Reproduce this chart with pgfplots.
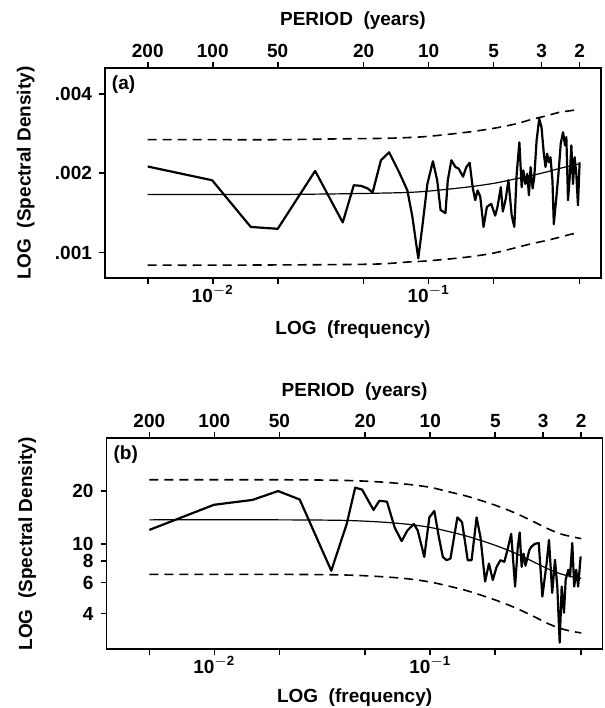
\documentclass[border=0pt]{standalone}
\usepackage{fontspec}
\setmainfont{Liberation Sans}
\usepackage{pgfplots}
\pgfplotsset{compat=1.18}

\pgfplotsset{
  specbase/.style={
    scale only axis, width=248pt,
    xmin=0.00317, xmax=0.628,
    tick align=outside, major tick length=3pt,
    axis line style={line width=0.9pt},
    xtick style={black, line width=0.8pt},
    ytick style={black, line width=0.8pt},
    tick label style={font=\fontsize{9.5}{11}\selectfont\bfseries},
    label style={font=\fontsize{9.5}{11}\selectfont\bfseries},
    /pgf/number format/assume math mode=true,
  },
  mainax/.style={specbase,
    xtick={0.005,0.01,0.02,0.05,0.1,0.2,0.5},
    xticklabels={,10\textsuperscript{$-$2},,,10\textsuperscript{$-$1},,},
    xticklabel style={inner sep=0.5pt},
    xtick pos=left, ytick pos=left,
    xlabel={LOG\ \ (frequency)},
    ylabel={LOG\ \ (Spectral Density)},
    ylabel style={at={(axis description cs:-0.16,0.5)}, anchor=center},
  },
  topax/.style={specbase,
    axis x line*=top, hide y axis,
    xtick pos=right, xticklabel pos=right,
    xtick={0.005,0.01,0.02,0.05,0.1,0.2,0.33333,0.5},
    xticklabels={200,100,50,20,10,5,3,2},
    xticklabel style={inner sep=2.1pt},
    xlabel={PERIOD\ \ (years)},
  },
  jag/.style={black, line width=1.1pt, line join=round},
  smfit/.style={black, line width=0.6pt, smooth},
  band/.style={black, line width=0.8pt, dash pattern=on 4.5pt off 3pt, smooth},
}

\begin{document}
\begin{tikzpicture}
\useasboundingbox (0,0) rectangle (302.5pt,-354pt);

% ---------- panel (a) ----------
\begin{loglogaxis}[topax, at={(52.5pt,-139pt)}, anchor=south west, height=104.85pt,
  ymin=0.0008, ymax=0.005,
  xlabel style={at={(axis description cs:0.5,1.23)}, anchor=center}]
\addplot[draw=none] coordinates {(0.01,0.002)};
\end{loglogaxis}
\begin{loglogaxis}[mainax, at={(52.5pt,-139pt)}, anchor=south west, height=104.85pt,
  ymin=0.0008, ymax=0.005,
  ytick={0.001,0.002,0.004}, yticklabels={.001,.002,.004},
  xlabel style={at={(axis description cs:0.5,-0.248)}, anchor=center}]
\addplot[jag] coordinates {
(0.005,0.00212)(0.00994,0.00188)(0.0150,0.00125)(0.0200,0.00123)(0.0298,0.00204)
(0.0400,0.00130)(0.0450,0.00180)(0.0486,0.00179)(0.0522,0.00175)(0.0550,0.00169)
(0.0601,0.00224)(0.0656,0.00240)(0.0729,0.00202)(0.0797,0.00172)(0.0840,0.00137)
(0.0895,0.00095)(0.0934,0.00125)(0.0986,0.00182)(0.1046,0.00222)(0.1095,0.00188)
(0.1135,0.00145)(0.1196,0.00141)(0.1226,0.00188)(0.1274,0.00224)(0.1330,0.00211)
(0.1377,0.00208)(0.1442,0.00194)(0.1494,0.00211)(0.1548,0.00219)(0.1598,0.00177)
(0.1643,0.00158)(0.1685,0.00172)(0.1733,0.00163)(0.1795,0.00125)(0.1860,0.00149)
(0.1948,0.00153)(0.2032,0.00138)(0.2083,0.00149)(0.2158,0.00177)(0.2204,0.00143)
(0.2275,0.00160)(0.2340,0.00188)(0.2424,0.00138)(0.2492,0.00125)(0.2556,0.00199)
(0.2630,0.00262)(0.2695,0.00177)(0.2744,0.00205)(0.2803,0.00182)(0.2862,0.00199)
(0.2912,0.00165)(0.2965,0.00211)(0.3029,0.00175)(0.3083,0.00193)(0.3160,0.00266)
(0.3250,0.00322)(0.3330,0.00299)(0.3414,0.00237)(0.3475,0.00211)(0.3537,0.00237)
(0.3600,0.00220)(0.3664,0.00230)(0.3743,0.00188)(0.3797,0.00128)(0.3905,0.00163)
(0.4002,0.00205)(0.4088,0.00259)(0.4190,0.00286)(0.4280,0.00255)(0.4340,0.00274)
(0.4418,0.00158)(0.4498,0.00193)(0.4578,0.00255)(0.4659,0.00182)(0.4742,0.00230)
(0.4826,0.00199)(0.4912,0.00151)(0.5000,0.00220)};
\addplot[smfit] coordinates {
(0.005,0.00166)(0.01,0.00166)(0.02,0.00166)(0.04,0.00167)(0.06,0.00168)
(0.08,0.00169)(0.1,0.00171)(0.15,0.00177)(0.2,0.00183)(0.25,0.00190)
(0.3,0.00196)(0.35,0.00202)(0.4,0.00208)(0.45,0.00213)(0.5,0.00217)};
\addplot[band] coordinates {
(0.005,0.00268)(0.01,0.00268)(0.02,0.00268)(0.04,0.00270)(0.06,0.00271)
(0.08,0.00273)(0.1,0.00276)(0.15,0.00286)(0.2,0.00296)(0.25,0.00307)
(0.3,0.00320)(0.35,0.00330)(0.4,0.00340)(0.45,0.00345)(0.5,0.00349)};
\addplot[band] coordinates {
(0.005,0.000895)(0.01,0.000895)(0.02,0.000897)(0.04,0.000900)(0.06,0.000905)
(0.08,0.000920)(0.1,0.000930)(0.15,0.000960)(0.2,0.000995)(0.25,0.00104)
(0.3,0.00108)(0.35,0.00111)(0.4,0.00114)(0.45,0.00117)(0.5,0.00119)};
\node[anchor=north west, inner sep=3.3pt, font=\fontsize{9.5}{11}\selectfont\bfseries]
  at (rel axis cs:0,1) {(a)};
\end{loglogaxis}

% ---------- panel (b) ----------
\begin{loglogaxis}[topax, at={(53.3pt,-324.65pt)}, anchor=south west, height=105.5pt,
  ymin=2.5, ymax=40,
  xlabel style={at={(axis description cs:0.5,1.221)}, anchor=center}]
\addplot[draw=none] coordinates {(0.01,10)};
\end{loglogaxis}
\begin{loglogaxis}[mainax, at={(53.3pt,-324.65pt)}, anchor=south west, height=105.5pt,
  ymin=2.5, ymax=40,
  ytick={4,6,8,10,20}, yticklabels={4,6,8,10,20},
  xlabel style={at={(axis description cs:0.5,-0.228)}, anchor=center}]
\addplot[jag] coordinates {
(0.005,12.0)(0.00996,16.7)(0.0150,17.8)(0.01975,20.0)(0.02485,17.9)
(0.0348,7.02)(0.0410,12.97)(0.0449,20.9)(0.0483,20.4)(0.0546,15.6)
(0.0581,17.6)(0.0630,17.4)(0.0684,12.4)(0.0737,10.36)(0.0783,11.9)
(0.0840,12.97)(0.0875,11.9)(0.0938,8.42)(0.0990,14.15)(0.1044,15.4)
(0.1096,10.9)(0.1143,8.42)(0.1190,8.06)(0.1240,8.24)(0.1335,14.15)
(0.1403,13.3)(0.1460,9.6)(0.1490,8.06)(0.1553,8.06)(0.1639,14.15)
(0.1708,10.9)(0.1794,6.09)(0.1869,7.72)(0.1948,6.22)(0.2029,7.39)
(0.2113,8.06)(0.2203,7.9)(0.2275,9.18)(0.2370,11.4)(0.2470,5.7)
(0.2542,9.6)(0.2594,11.6)(0.2649,7.39)(0.2703,8.79)(0.2760,7.5)
(0.2874,9.18)(0.2934,9.6)(0.3050,10.0)(0.3180,10.1)(0.3304,5.0)
(0.3456,7.72)(0.3546,10.5)(0.3670,5.25)(0.3780,8.1)(0.3875,5.7)
(0.3974,2.73)(0.4060,5.7)(0.4160,4.04)(0.4236,6.24)(0.4355,7.1)
(0.4436,6.5)(0.4545,10.1)(0.4640,5.7)(0.4740,7.1)(0.4840,5.7)
(0.4970,8.47)};
\addplot[smfit] coordinates {
(0.005,13.7)(0.02,13.7)(0.04,13.6)(0.06,13.3)(0.08,12.9)(0.1,12.4)
(0.12,11.8)(0.15,11.0)(0.2,9.8)(0.25,8.8)(0.3,7.9)(0.35,7.2)
(0.4,6.75)(0.45,6.5)(0.5,6.35)};
\addplot[band] coordinates {
(0.005,23.2)(0.02,23.2)(0.04,23.0)(0.06,22.5)(0.08,21.8)(0.1,21.0)
(0.12,19.9)(0.15,18.6)(0.2,16.6)(0.25,14.9)(0.3,13.4)(0.35,12.2)
(0.4,11.4)(0.45,11.0)(0.5,10.7)};
\addplot[band] coordinates {
(0.005,6.69)(0.02,6.69)(0.04,6.64)(0.06,6.49)(0.08,6.30)(0.1,6.05)
(0.12,5.76)(0.15,5.37)(0.2,4.78)(0.25,4.29)(0.3,3.86)(0.35,3.51)
(0.4,3.29)(0.45,3.17)(0.5,3.10)};
\node[anchor=north west, inner sep=3.3pt, font=\fontsize{9.5}{11}\selectfont\bfseries]
  at (rel axis cs:0,1) {(b)};
\end{loglogaxis}
\end{tikzpicture}
\end{document}
